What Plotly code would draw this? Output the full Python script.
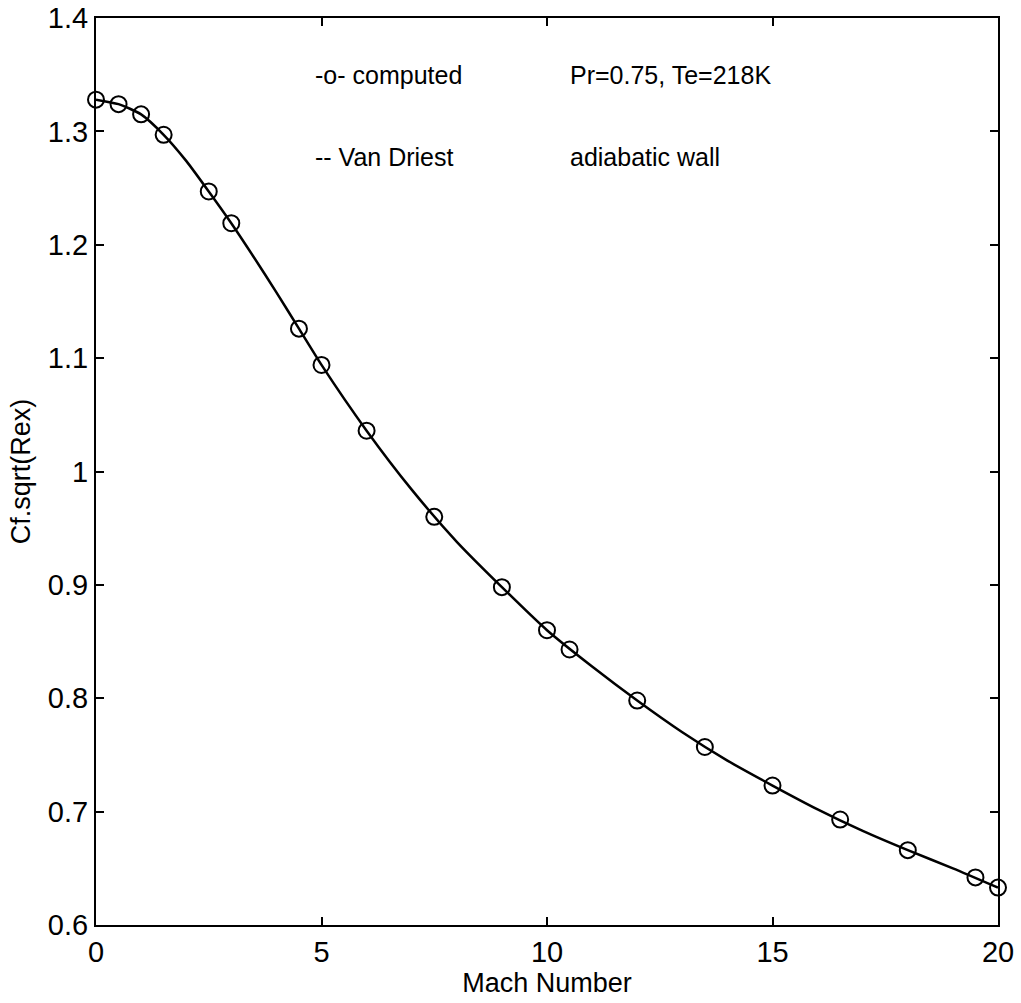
import plotly.graph_objects as go

# Computed points (open circles)
mach_computed = [0, 0.5, 1, 1.5, 2.5, 3, 4.5, 5, 6, 7.5, 9, 10, 10.5, 12, 13.5, 15, 16.5, 18, 19.5, 20]
cf_computed = [1.328, 1.324, 1.315, 1.297, 1.247, 1.219, 1.126, 1.094, 1.036, 0.960, 0.898,
               0.860, 0.843, 0.798, 0.757, 0.723, 0.693, 0.666, 0.642, 0.633]

# Van Driest curve (solid line)
mach_vd = [0, 0.5, 1, 1.5, 2, 2.5, 3, 3.5, 4, 4.5, 5, 6, 7, 8, 9, 10, 11, 12, 13, 14, 15, 16, 17, 18, 19, 20]
cf_vd = [1.328, 1.324, 1.315, 1.297, 1.274, 1.247, 1.219, 1.189, 1.158, 1.126, 1.094, 1.036, 0.984,
         0.938, 0.898, 0.860, 0.828, 0.798, 0.770, 0.745, 0.723, 0.702, 0.683, 0.666, 0.650, 0.633]

x_ticks = [0, 5, 10, 15, 20]
y_ticks = [0.6, 0.7, 0.8, 0.9, 1.0, 1.1, 1.2, 1.3, 1.4]
y_tick_text = ["0.6", "0.7", "0.8", "0.9", "1", "1.1", "1.2", "1.3", "1.4"]

notes = [
    ("-o- computed", 0.2406, 0.937),
    ("Pr=0.75, Te=218K", 0.523, 0.937),
    ("-- Van Driest", 0.2406, 0.8467),
    ("adiabatic wall", 0.523, 0.8467),
]

FONT = "Liberation Sans, Arial, Helvetica, sans-serif"

fig = go.Figure()
fig.add_trace(go.Scatter(
    x=mach_vd, y=cf_vd, mode="lines",
    line=dict(color="black", width=2.5, shape="spline", smoothing=0.6),
    showlegend=False, hoverinfo="skip"))
fig.add_trace(go.Scatter(
    x=mach_computed, y=cf_computed, mode="markers",
    marker=dict(symbol="circle-open", size=16, color="black", line=dict(width=2, color="black")),
    showlegend=False, cliponaxis=False))

for text, xp, yp in notes:
    fig.add_annotation(text=text, x=xp, y=yp, xref="paper", yref="paper",
                       xanchor="left", yanchor="middle", showarrow=False,
                       font=dict(family=FONT, size=25, color="black"))

axis_common = dict(
    showgrid=False, zeroline=False, showline=True, linecolor="black", linewidth=2,
    mirror="ticks", ticks="inside", ticklen=8, tickwidth=1.5, tickcolor="black",
    tickfont=dict(family=FONT, size=29, color="black"), automargin=False,
    ticklabeloverflow="allow",
)

fig.update_xaxes(range=[0, 20], tickvals=x_ticks, ticktext=[str(v) for v in x_ticks],
                 title=dict(text="Mach Number", font=dict(family=FONT, size=27, color="black"), standoff=2),
                 **axis_common)
fig.update_yaxes(range=[0.6, 1.4], tickvals=y_ticks, ticktext=y_tick_text,
                 title=dict(text="Cf.sqrt(Rex)", font=dict(family=FONT, size=27, color="black"), standoff=9),
                 **axis_common)

fig.update_layout(
    width=1021, height=1003,
    margin=dict(l=96, r=23, t=18, b=78),
    paper_bgcolor="white", plot_bgcolor="white",
    font=dict(family=FONT, color="black"),
)

fig.write_html("out.html", config={"displayModeBar": False},
               post_script="document.body.style.margin='0';document.body.style.overflow='hidden';")
